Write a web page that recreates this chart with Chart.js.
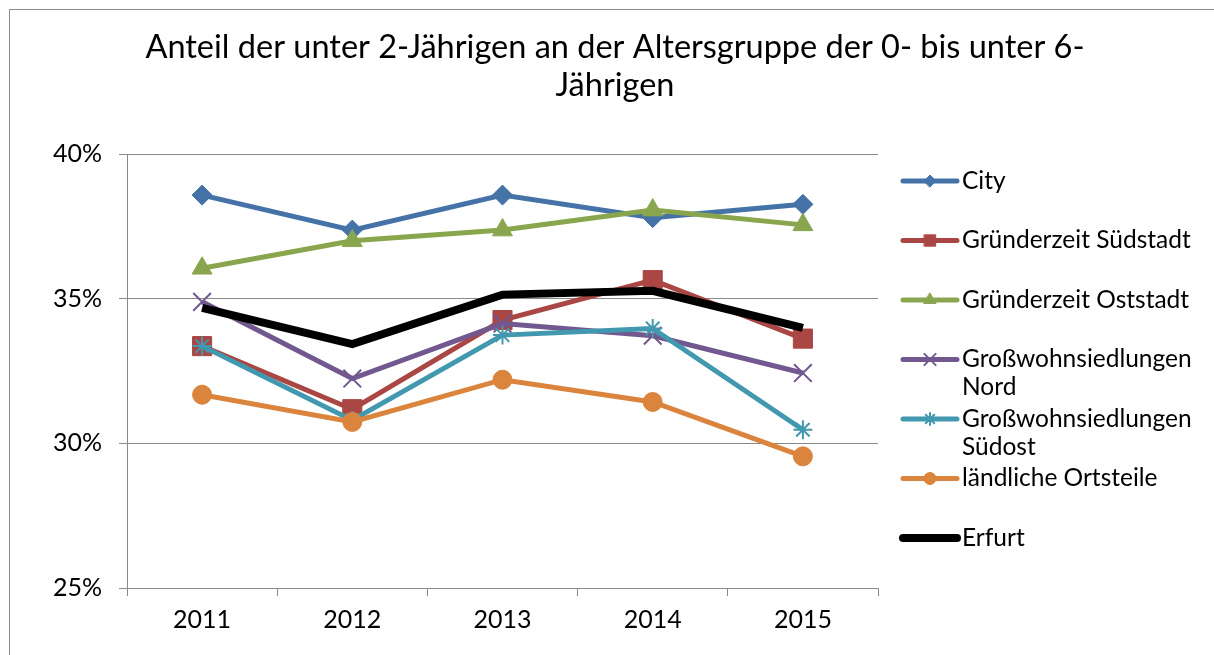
<!DOCTYPE html>
<html>
<head>
<meta charset="utf-8">
<script src="https://cdn.jsdelivr.net/npm/chart.js@4.4.1/dist/chart.umd.min.js"></script>
<style>
  html, body { margin: 0; padding: 0; background: #fff; }
  canvas { display: block; }
</style>
</head>
<body>
<canvas id="c" width="1214" height="655"></canvas>
<script>
const titleLines = ['Anteil der unter 2-Jährigen an der Altersgruppe der 0- bis unter 6-', 'Jährigen'];
const categories = ['2011', '2012', '2013', '2014', '2015'];
const yTicks = [25, 30, 35, 40];

const seriesNames = ['City', 'Gründerzeit Südstadt', 'Gründerzeit Oststadt', 'Großwohnsiedlungen\nNord', 'Großwohnsiedlungen\nSüdost', 'ländliche Ortsteile', 'Erfurt'];
const city       = [38.58, 37.37, 38.58, 37.80, 38.26];
const suedstadt  = [33.36, 31.18, 34.26, 35.64, 33.62];
const oststadt   = [36.05, 37.00, 37.37, 38.06, 37.55];
const nord       = [34.89, 32.24, 34.14, 33.72, 32.43];
const suedost    = [33.36, 30.80, 33.74, 33.97, 30.47];
const laendlich  = [31.68, 30.74, 32.20, 31.43, 29.55];
const erfurt     = [34.68, 33.43, 35.14, 35.27, 33.99];

const FONT = 'Lato, "Open Sans", sans-serif';
const GRID = '#8a8a8a';

function mk(label, data, color, style, radius, lw, bw, order, legendR) {
  return {
    label, data,
    borderColor: color, backgroundColor: color,
    pointBackgroundColor: color, pointBorderColor: color,
    borderWidth: lw, pointStyle: style, pointRadius: radius,
    pointBorderWidth: bw, pointHoverRadius: radius,
    tension: 0, order, fill: false, legendR
  };
}

const datasets = [
  mk(seriesNames[0], city,      '#4572A7', 'rectRot',  10,  5, 1, 7, 6),
  mk(seriesNames[1], suedstadt, '#AA4643', 'rect',     13.5,5, 1, 6, 8),
  mk(seriesNames[2], oststadt,  '#89A54E', 'triangle', 11.5,5, 1, 5, 7),
  mk(seriesNames[3], nord,      '#71588F', 'crossRot', 12.5,5, 2, 4, 8),
  mk(seriesNames[4], suedost,   '#4198AF', 'star',     9.5, 5, 2, 3, 6),
  mk(seriesNames[5], laendlich, '#DB843D', 'circle',   9.5, 5, 1, 2, 6),
  mk(seriesNames[6], erfurt,    '#000000', false,      0,   8, 0, 1, 0),
];

const framePlugin = {
  id: 'frame',
  beforeDraw(chart) {
    const ctx = chart.ctx;
    ctx.save();
    ctx.fillStyle = '#fff';
    ctx.fillRect(0, 0, chart.width, chart.height);
    ctx.strokeStyle = '#8c8c8c';
    ctx.lineWidth = 1;
    ctx.strokeRect(9.5, 9.5, 1400, 800);
    ctx.restore();
  },
  afterDraw(chart) {
    const ctx = chart.ctx;
    ctx.save();
    // title
    ctx.fillStyle = '#000';
    ctx.font = '32.5px ' + FONT;
    ctx.textAlign = 'center';
    ctx.textBaseline = 'middle';
    ctx.fillText(titleLines[0], 615, 48);
    ctx.fillText(titleLines[1], 615, 86);
    // legend
    const x0 = 903, x1 = 957, tx = 962;
    chart.data.datasets.forEach((ds, i) => {
      const y = 181 + i * 59.5;
      ctx.strokeStyle = ds.borderColor;
      ctx.lineWidth = ds.borderWidth;
      ctx.lineCap = 'round';
      ctx.beginPath(); ctx.moveTo(x0, y); ctx.lineTo(x1, y); ctx.stroke();
      if (ds.pointStyle) {
        ctx.fillStyle = ds.pointBackgroundColor;
        ctx.strokeStyle = ds.pointBorderColor;
        ctx.lineWidth = ds.pointBorderWidth;
        Chart.helpers.drawPoint(ctx, { pointStyle: ds.pointStyle, radius: ds.legendR, borderWidth: ds.pointBorderWidth, rotation: 0 }, (x0 + x1) / 2, y);
      }
      ctx.fillStyle = '#000';
      ctx.font = '24.5px ' + FONT;
      ctx.textAlign = 'left';
      ctx.textBaseline = 'middle';
      ds.label.split('\n').forEach((t, k) => ctx.fillText(t, tx, y + k * 28));
    });
    ctx.restore();
  }
};

new Chart(document.getElementById('c'), {
  type: 'line',
  data: { labels: categories, datasets },
  plugins: [framePlugin],
  options: {
    responsive: false,
    animation: false,
    devicePixelRatio: 1,
    layout: { padding: { top: 154, right: 336, left: 0, bottom: 0 } },
    plugins: { legend: { display: false }, title: { display: false }, tooltip: { enabled: false } },
    scales: {
      x: {
        offset: true,
        grid: { offset: true, drawOnChartArea: false, drawTicks: true, tickLength: 8, color: GRID, lineWidth: 1 },
        border: { color: GRID, width: 1 },
        ticks: { color: '#000', font: { family: FONT, size: 25 }, padding: 9 },
        afterFit(s) { s.height = 67; }
      },
      y: {
        min: 25, max: 40,
        afterBuildTicks(s) { s.ticks = yTicks.map(v => ({ value: v })); },
        grid: { color: GRID, lineWidth: 1, tickLength: 8, drawTicks: true },
        border: { color: GRID, width: 1 },
        ticks: { color: '#000', font: { family: FONT, size: 25 }, padding: 17, callback: v => v + '%' },
        afterFit(s) { s.width = 127; }
      }
    }
  }
});
</script>
</body>
</html>
